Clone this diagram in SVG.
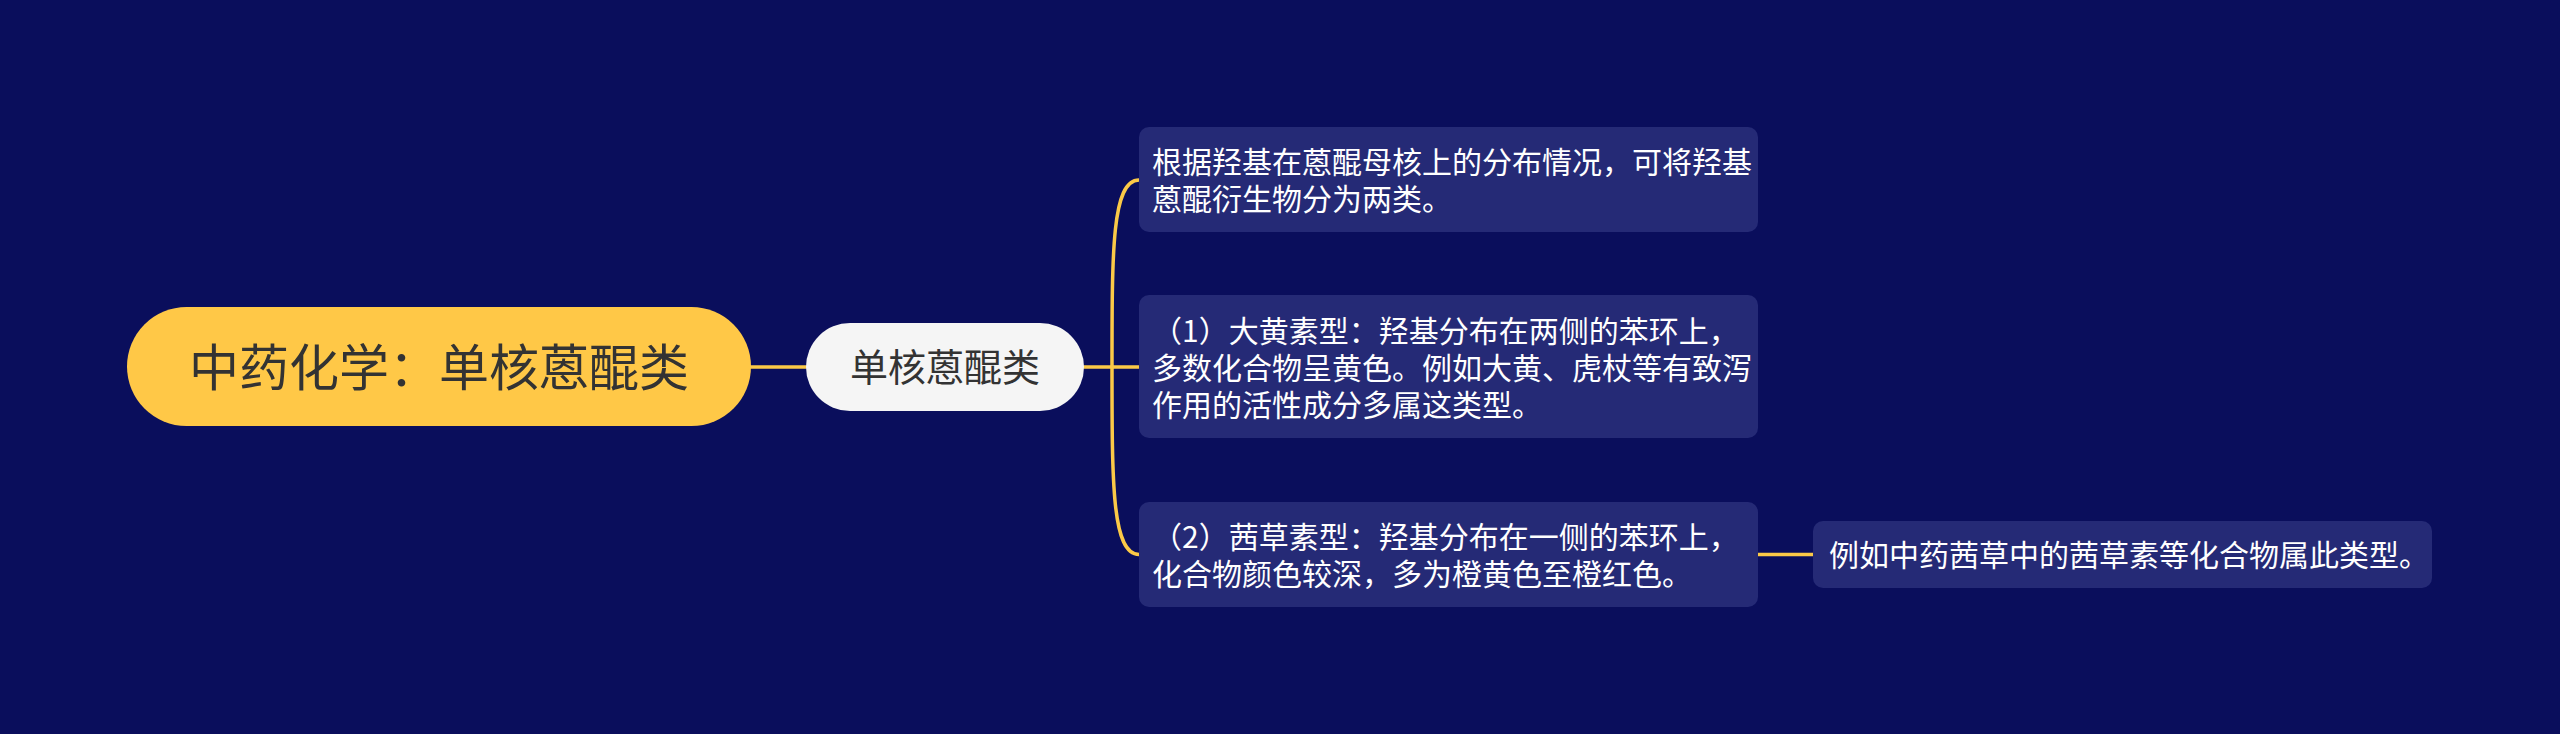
<svg xmlns="http://www.w3.org/2000/svg" width="2560" height="734" viewBox="0 0 2560 734">
<style>
.bg{fill:#0a0e5c}
.conn{fill:none;stroke:#fbc947;stroke-width:3.5;stroke-linecap:round}
.box{fill:#252a76}
.t{font-family:"Noto Sans CJK SC","Noto Sans",sans-serif}
.bt{font-size:30px;fill:#ffffff}
</style>
<rect class="bg" x="0" y="0" width="2560" height="734"/>
<g id="connectors">
<line class="conn" x1="751" y1="367" x2="806" y2="367"/>
<line class="conn" x1="1084" y1="367" x2="1139" y2="367"/>
<path class="conn" d="M1112 367 C1112 250 1112 180 1139 180"/>
<path class="conn" d="M1112 367 C1112 484 1112 554.5 1139 554.5"/>
<line class="conn" x1="1758" y1="554.5" x2="1813" y2="554.5"/>
</g>
<g id="root">
<rect x="127" y="307" width="624" height="119" rx="59.5" fill="#ffc847"/>
<text class="t" x="439" y="385.5" font-size="50" fill="#333333" text-anchor="middle">中药化学：单核蒽醌类</text>
</g>
<g id="child">
<rect x="806" y="323" width="278" height="88" rx="44" fill="#f5f5f5"/>
<text class="t" x="945" y="381" font-size="38" fill="#333333" text-anchor="middle">单核蒽醌类</text>
</g>
<g id="n1">
<rect class="box" x="1139" y="127" width="619" height="105" rx="10"/>
<text class="t bt" x="1152" y="172.5">根据羟基在蒽醌母核上的分布情况，可将羟基<tspan x="1152" dy="37">蒽醌衍生物分为两类。</tspan></text>
</g>
<g id="n2">
<rect class="box" x="1139" y="295" width="619" height="143" rx="10"/>
<text class="t bt" x="1152" y="342">（1）大黄素型：羟基分布在两侧的苯环上，<tspan x="1152" dy="37">多数化合物呈黄色。例如大黄、虎杖等有致泻</tspan><tspan x="1152" dy="37">作用的活性成分多属这类型。</tspan></text>
</g>
<g id="n3">
<rect class="box" x="1139" y="502" width="619" height="105" rx="10"/>
<text class="t bt" x="1152" y="547.5">（2）茜草素型：羟基分布在一侧的苯环上，<tspan x="1152" dy="37">化合物颜色较深，多为橙黄色至橙红色。</tspan></text>
</g>
<g id="n4">
<rect class="box" x="1813" y="521" width="619" height="67" rx="10"/>
<text class="t bt" x="1829" y="566">例如中药茜草中的茜草素等化合物属此类型。</text>
</g>
</svg>
